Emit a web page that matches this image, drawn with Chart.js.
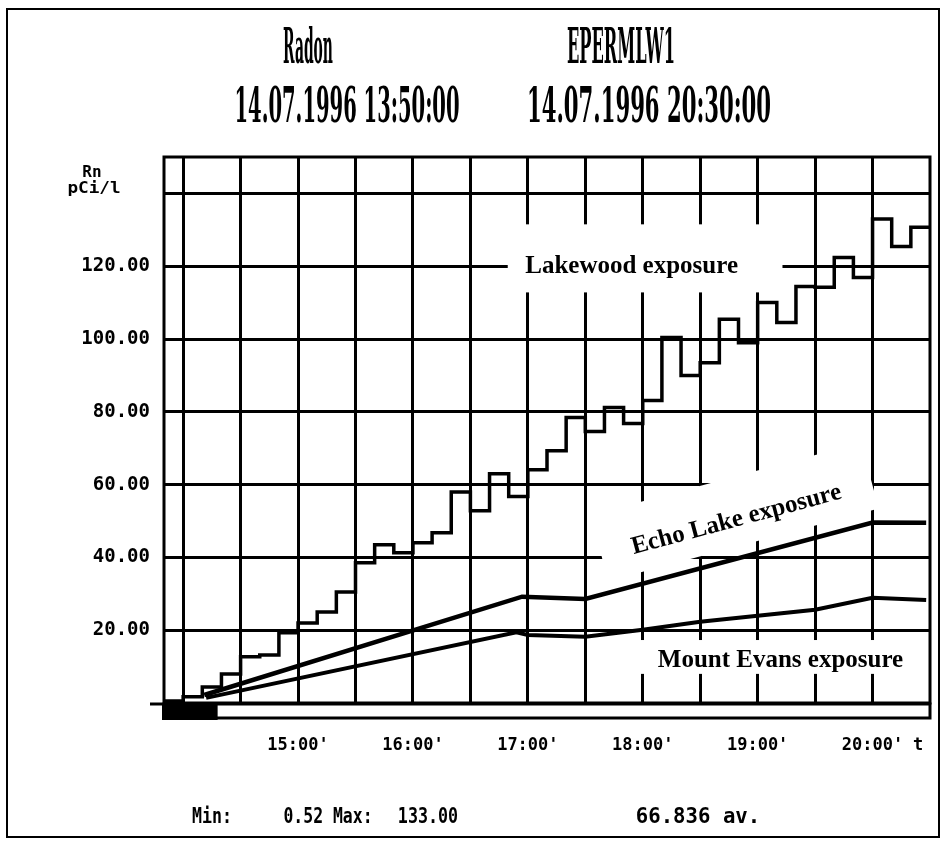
<!DOCTYPE html>
<html><head><meta charset="utf-8">
<script src="https://cdn.jsdelivr.net/npm/chart.js@4/dist/chart.umd.min.js"></script>
<style>
html,body{margin:0;padding:0;background:#fff;}
#wrap{position:relative;width:942px;height:842px;overflow:hidden;background:#fff;}
canvas{position:absolute;left:0;top:0;}
.t{position:absolute;white-space:nowrap;color:#000;line-height:1;transform-origin:center center;}
.hd{font:bold 48px "DejaVu Serif";}
.ft{font:bold 22px "DejaVu Sans Mono";}
.ax{font:bold 16px "DejaVu Sans Mono";}
</style></head><body>
<div id="wrap">
<canvas id="c" width="942" height="842"></canvas>
<div class="t hd" data-x="308" data-y="46" data-w="50">Radon</div>
<div class="t hd" data-x="621" data-y="46" data-w="108">EPERMLW1</div>
<div class="t hd" data-x="347" data-y="105" data-w="225">14.07.1996 13:50:00</div>
<div class="t hd" data-x="649" data-y="105" data-w="244">14.07.1996 20:30:00</div>
<div class="t ax" data-x="92" data-y="171" data-w="19">Rn</div>
<div class="t ax" data-x="94" data-y="187" data-w="53">pCi/l</div>
<div class="t ft" data-x="212" data-y="815" data-w="40">Min:</div>
<div class="t ft" data-x="328" data-y="815" data-w="89">0.52 Max:</div>
<div class="t ft" data-x="428" data-y="815" data-w="60">133.00</div>
<div class="t ft" data-x="698" data-y="815" data-w="124">66.836 av.</div>
</div>
<script>
// ---- data ----
const lakewoodTimes = ["13:50","14:00","14:10","14:20","14:30","14:40","14:50","15:00","15:10","15:20","15:30","15:40","15:50","16:00","16:10","16:20","16:30","16:40","16:50","17:00","17:10","17:20","17:30","17:40","17:50","18:00","18:10","18:20","18:30","18:40","18:50","19:00","19:10","19:20","19:30","19:40","19:50","20:00","20:10","20:20","20:30"];
const lakewoodValues = [0.52,1.7,4.4,8.0,12.7,13.2,19.3,22.0,25.0,30.5,38.5,43.5,41.3,44.0,46.8,58.0,52.8,63.0,56.7,64.1,69.3,78.4,74.6,81.2,76.8,83.1,100.4,90.0,93.5,105.4,99.0,110.0,104.5,114.4,114.2,122.4,116.9,133.0,125.4,130.7,130.7];
const echoTimes = ["14:11","16:57","17:30","20:00","20:28"];
const echoValues = [2.2,29.2,28.6,49.6,49.5];
const evansTimes = ["14:12","16:54","17:00","17:30","18:00","18:30","19:30","20:00","20:28"];
const evansValues = [1.4,19.4,18.7,18.2,20.1,22.3,25.6,28.9,28.3];
const gridTimes = ["14:00","14:30","15:00","15:30","16:00","16:30","17:00","17:30","18:00","18:30","19:00","19:30","20:00"];
const xLabelTimes = ["15:00","16:00","17:00","18:00","19:00","20:00"];
const xLabelTexts = ["15:00'","16:00'","17:00'","18:00'","19:00'","20:00'"];
const yTickValues = [0,20,40,60,80,100,120,140];
const yTickLabels = ["","20.00","40.00","60.00","80.00","100.00","120.00",""];
const startTime = "13:50", endTime = "20:30";
const seriesNames = ["Lakewood exposure","Echo Lake exposure","Mount Evans exposure"];

const toH = s => { const p = s.split(':').map(Number); return p[0] + p[1]/60; };
const pts = (ts, vs) => ts.map((t,i) => ({x: toH(t), y: vs[i]}));

// header / footer text fitting
document.querySelectorAll('.t').forEach(el => {
  const w = el.offsetWidth;
  const sx = (+el.dataset.w) / w;
  el.style.left = el.dataset.x + 'px';
  el.style.top = el.dataset.y + 'px';
  el.style.transform = `translate(-50%,-50%) scaleX(${sx})`;
});

const decor = {
  id: 'decor',
  beforeDatasetsDraw(chart) {
    const ctx = chart.ctx, xs = chart.scales.x, ys = chart.scales.y;
    const X = t => xs.getPixelForValue(t), Y = v => ys.getPixelForValue(v);
    ctx.save();
    ctx.fillStyle = '#fff';
    // label knock-outs
    ctx.fillRect(X(16.825), Y(131.5), X(19.216) - X(16.825), Y(112.8) - Y(131.5));
    ctx.fillRect(X(17.886), Y(17.3), X(20.364) - X(17.886), Y(8.0) - Y(17.3));
    ctx.save();
    ctx.translate(X(18.8), Y(52.5));
    ctx.rotate(-15 * Math.PI / 180);
    ctx.fillRect(-140, -34, 280, 68);
    ctx.restore();
    // labels
    ctx.fillStyle = '#000';
    ctx.font = 'bold 25px "Liberation Serif"';
    ctx.textAlign = 'center';
    ctx.textBaseline = 'middle';
    ctx.fillText(seriesNames[0], X(17.903), Y(120));
    ctx.fillText(seriesNames[2], X(19.199), Y(11.55));
    ctx.save();
    ctx.translate(X(18.816), Y(50.3));
    ctx.rotate(-15 * Math.PI / 180);
    ctx.fillText(seriesNames[1], 0, 0);
    ctx.restore();
    ctx.restore();
  },
  afterDraw(chart) {
    const ctx = chart.ctx, a = chart.chartArea, xs = chart.scales.x;
    ctx.save();
    ctx.strokeStyle = '#000';
    ctx.lineWidth = 3;
    ctx.strokeRect(a.left, a.top, a.right - a.left, a.bottom - a.top);
    // bar under axis
    ctx.fillStyle = '#fff';
    ctx.fillRect(a.left, a.bottom, a.right - a.left, 15);
    ctx.strokeRect(a.left, a.bottom + 1, a.right - a.left, 14);
    ctx.fillStyle = '#000';
    ctx.fillRect(a.left - 2, a.bottom, xs.getPixelForValue(14.3) - a.left + 2, 17);
    // small tick left of zero
    ctx.beginPath(); ctx.moveTo(a.left - 14, a.bottom + 1); ctx.lineTo(a.left, a.bottom + 1); ctx.stroke();
    // "t" after last time label
    ctx.font = 'bold 17px "DejaVu Sans Mono"';
    ctx.textAlign = 'center'; ctx.textBaseline = 'middle';
    ctx.fillText('t', 918, 746);
    // outer frame
    ctx.lineWidth = 2;
    ctx.strokeRect(7, 9, 932, 828);
    ctx.restore();
  }
};

new Chart(document.getElementById('c'), {
  type: 'line',
  data: {
    datasets: [
      { label: seriesNames[0], data: pts(lakewoodTimes, lakewoodValues), stepped: 'before',
        borderColor: '#000', borderWidth: 3.5, pointRadius: 0, fill: false, borderJoinStyle: 'miter' },
      { label: seriesNames[1], data: pts(echoTimes, echoValues),
        borderColor: '#000', borderWidth: 4.5, pointRadius: 0, fill: false, tension: 0 },
      { label: seriesNames[2], data: pts(evansTimes, evansValues),
        borderColor: '#000', borderWidth: 4, pointRadius: 0, fill: false, tension: 0 }
    ]
  },
  options: {
    responsive: false, animation: false, devicePixelRatio: 1,
    layout: { padding: { top: 157, right: 12, left: 0, bottom: 0 } },
    plugins: { legend: { display: false }, tooltip: { enabled: false }, title: { display: false } },
    scales: {
      x: {
        type: 'linear', min: toH(startTime), max: toH(endTime),
        afterBuildTicks: s => { s.ticks = gridTimes.map(t => ({ value: toH(t) })); },
        afterFit: s => { s.height = 139; s.paddingLeft = 0; s.paddingRight = 0; },
        grid: { color: '#000', lineWidth: 3, drawTicks: false },
        border: { display: false },
        ticks: {
          autoSkip: false, maxRotation: 0, padding: 32, color: '#000',
          font: { family: 'DejaVu Sans Mono', weight: 'bold', size: 17 },
          callback: v => { const i = xLabelTimes.findIndex(t => Math.abs(toH(t) - v) < 1e-6); return i >= 0 ? xLabelTexts[i] : ''; }
        }
      },
      y: {
        min: 0, max: 150,
        afterBuildTicks: s => { s.ticks = yTickValues.map(v => ({ value: v })); },
        afterFit: s => { s.width = 164; s.paddingTop = 0; s.paddingBottom = 0; },
        grid: { color: '#000', lineWidth: 3, drawTicks: false },
        border: { display: false },
        ticks: {
          padding: 14, color: '#000',
          font: { family: 'DejaVu Sans Mono', weight: 'bold', size: 19 },
          callback: v => { const i = yTickValues.indexOf(v); return i >= 0 ? yTickLabels[i] : ''; }
        }
      }
    }
  },
  plugins: [decor]
});
</script>
</body></html>
